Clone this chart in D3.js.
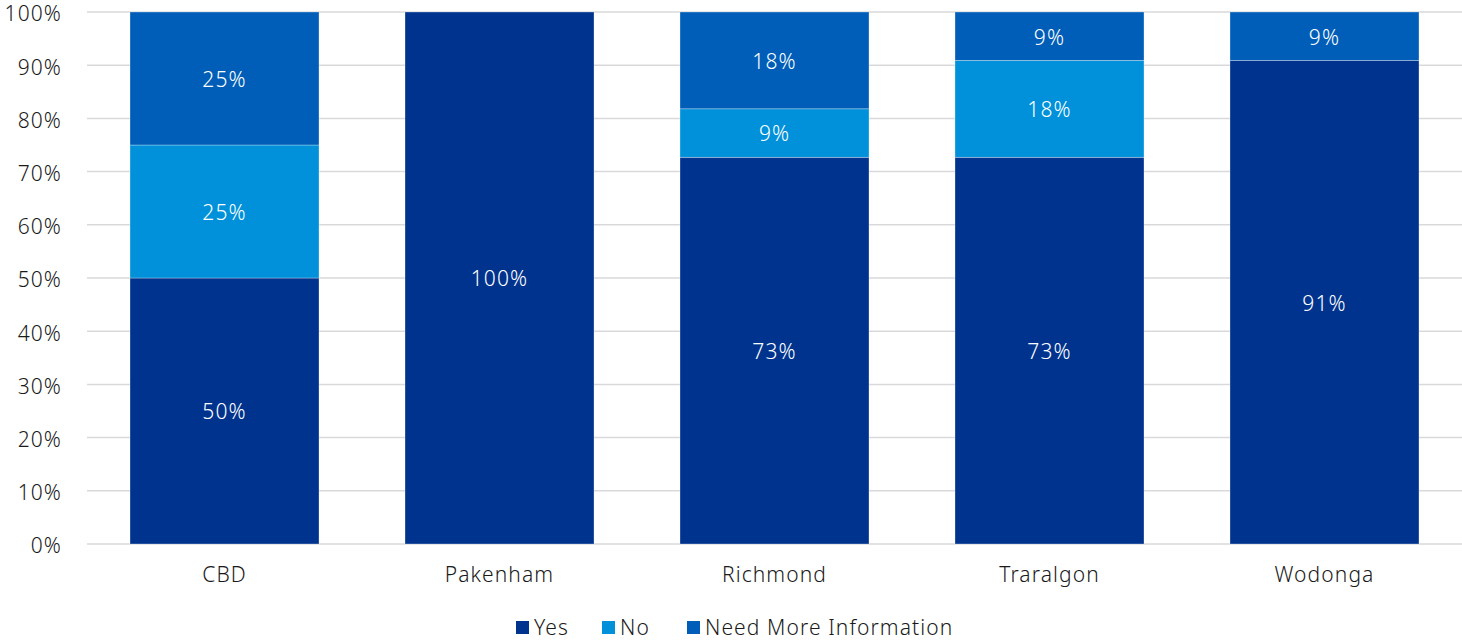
<!DOCTYPE html>
<html><head><meta charset="utf-8">
<script src="https://cdn.jsdelivr.net/npm/d3@7"></script>
<style>body{margin:0;background:#fff;} text{font-family:"Noto Sans","Roboto",sans-serif;font-weight:300;letter-spacing:1.1px;}</style>
</head><body><svg id="c" width="1462" height="641"></svg>
<script>
const categories = ["CBD","Pakenham","Richmond","Traralgon","Wodonga"];
const seriesNames = ["Yes","No","Need More Information"];
const yesValues = [50, 100, 72.7, 72.7, 90.9];
const noValues = [25, 0, 9.1, 18.2, 0];
const needInfoValues = [25, 0, 18.2, 9.1, 9.1];
const colors = ["#00338D","#0091DA","#005EB8"];
const yTicks = [0,10,20,30,40,50,60,70,80,90,100];

const svg = d3.select("#c");
const m = {l:87, r:0, t:12, b:97};
const W = 1462, H = 641;
const FS = 21;
const x = d3.scaleBand().domain(categories).range([m.l, W-m.r]).paddingInner(0.3127).paddingOuter(0.1564);
const y = d3.scaleLinear().domain([0,100]).range([H-m.b, m.t]);

const rows = categories.map((c,i)=>({cat:c, Yes:yesValues[i], No:noValues[i], "Need More Information":needInfoValues[i]}));
const stack = d3.stack().keys(seriesNames)(rows);

svg.append("g").selectAll("line").data(yTicks).join("line")
  .attr("x1", m.l).attr("x2", W).attr("y1", d=>y(d)).attr("y2", d=>y(d))
  .attr("stroke","#d9d9d9").attr("stroke-width",1.5);

svg.append("g").selectAll("text").data(yTicks).join("text")
  .attr("x", 62).attr("y", d=>y(d)+2).attr("dy","0.35em").attr("text-anchor","end")
  .attr("font-size",FS).attr("fill","#1a1a1a").text(d=>d+"%");

const g = svg.append("g");
stack.forEach((s,si)=>{
  g.append("g").selectAll("rect").data(s.filter(d=>d[1]-d[0]>0)).join("rect")
    .attr("x", d=>x(d.data.cat)).attr("width", x.bandwidth())
    .attr("y", d=>y(Math.min(d[1],100))).attr("height", d=>y(d[0])-y(Math.min(d[1],100)))
    .attr("fill", colors[si]).attr("stroke","#fff").attr("stroke-width",0.6).attr("stroke-opacity",0.5);
  g.append("g").selectAll("text").data(s.filter(d=>d[1]-d[0]>0)).join("text")
    .attr("x", d=>x(d.data.cat)+x.bandwidth()/2)
    .attr("y", d=>(y(d[0])+y(Math.min(d[1],100)))/2+1).attr("dy","0.35em")
    .attr("text-anchor","middle").attr("font-size",FS).attr("fill","#fff")
    .text(d=>Math.round(d[1]-d[0])+"%");
});

svg.append("g").selectAll("text").data(categories).join("text")
  .attr("x", d=>x(d)+x.bandwidth()/2).attr("y", 575).attr("dy","0.35em")
  .attr("text-anchor","middle").attr("font-size",FS).attr("fill","#1a1a1a").text(d=>d);

const legX = [516, 602, 687];
const lg = svg.append("g");
seriesNames.forEach((n,i)=>{
  lg.append("rect").attr("x", legX[i]).attr("y", 621).attr("width",13).attr("height",13).attr("fill",colors[i]);
  lg.append("text").attr("x", legX[i]+18).attr("y", 628).attr("dy","0.35em")
    .attr("font-size",FS).attr("fill","#1a1a1a").text(n);
});
</script></body></html>
